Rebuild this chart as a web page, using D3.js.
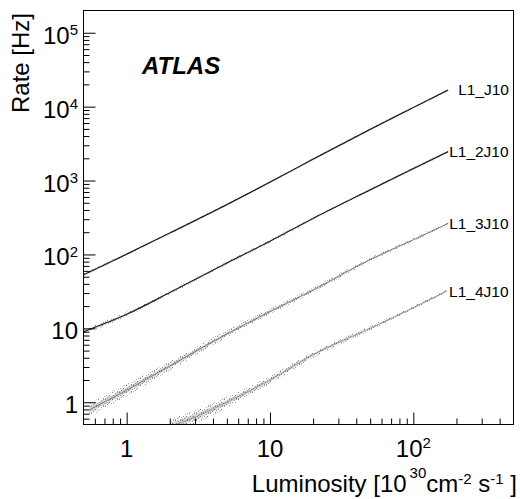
<!DOCTYPE html>
<html>
<head>
<meta charset="utf-8">
<script src="https://cdn.jsdelivr.net/npm/d3@7"></script>
<style>
  html, body { margin: 0; padding: 0; background: #fff; }
  svg text { font-family: "Liberation Sans", Arial, sans-serif; fill: #000; }
</style>
</head>
<body>
<svg id="chart" width="520" height="499"></svg>
<script>
// ---------------- data ----------------
const seriesNames = ["L1_J10", "L1_2J10", "L1_3J10", "L1_4J10"];

// luminosity [1e30 cm^-2 s^-1] of each read point, per series
const lumiJ10  = [0.5, 1, 2, 5, 10, 20, 50, 100, 175];
const lumi2J10 = [0.5, 1, 2, 5, 10, 20, 50, 100, 175];
const lumi3J10 = [0.55, 1, 2, 5, 10, 20, 50, 100, 175];
const lumi4J10 = [2, 3, 5, 10, 20, 50, 100, 172];

// rate [Hz] (centre of the scatter band)
const rateJ10  = [53, 101, 195, 473, 950, 1950, 4930, 9730, 16800];
const rate2J10 = [9.0, 15.5, 30.5, 76.7, 151, 307, 747, 1450, 2460];
const rate3J10 = [0.79, 1.46, 3.1, 8.4, 16.9, 33, 85, 158, 264];
const rate4J10 = [0.47, 0.63, 1.0, 2.0, 4.4, 10, 19, 32];

// half-width of the scatter band (in decades of rate)
const spreadJ10  = [0.02, 0.015, 0.015, 0.015, 0.012, 0.012, 0.012, 0.012, 0.012];
const spread2J10 = [0.03, 0.03, 0.025, 0.02, 0.02, 0.018, 0.015, 0.015, 0.015];
const spread3J10 = [0.09, 0.08, 0.06, 0.045, 0.035, 0.03, 0.025, 0.02, 0.02];
const spread4J10 = [0.1, 0.09, 0.07, 0.05, 0.04, 0.03, 0.025, 0.02];

// axes
const xDomain = [0.5, 500];
const yDomain = [0.5, 2e5];
const xTickValues = [1, 10, 100];
const xTickBase = ["1", "10", "10"];
const xTickExp  = ["", "", "2"];
const yTickValues = [1, 10, 100, 1e3, 1e4, 1e5];
const yTickBase = ["1", "10", "10", "10", "10", "10"];
const yTickExp  = ["", "", "2", "3", "4", "5"];

// ---------------- styles / layout ----------------
(function () {
const lumis = [lumiJ10, lumi2J10, lumi3J10, lumi4J10];
const rates = [rateJ10, rate2J10, rate3J10, rate4J10];
const spreads = [spreadJ10, spread2J10, spread3J10, spread4J10];
const lineColor = ["#1a1a1a", "#1a1a1a", "#555", "#666"];
const lineWidth = [1.3, 1.2, 0.9, 0.8];
const lineOpacity = [0.95, 0.95, 0.7, 0.6];
const labelDx = [10, 1, 1, 2];

const pLeft = 83.5, pRight = 513.5, pTop = 10.5, pBottom = 424.5;

const svg = d3.select("#chart");
const x = d3.scaleLog().domain(xDomain).range([pLeft, pRight]);
const y = d3.scaleLog().domain(yDomain).range([pBottom, pTop]);

const defs = svg.append("defs");
defs.append("clipPath").attr("id", "plotclip")
  .append("rect").attr("x", pLeft).attr("y", pTop)
  .attr("width", pRight - pLeft).attr("height", pBottom - pTop);

// irregular stipple texture (style only) to look like a dense scatter
const pat = defs.append("pattern").attr("id", "stip")
  .attr("patternUnits", "userSpaceOnUse").attr("width", 7).attr("height", 7);
const stippleDots = [[0,0,"#888"],[3,1,"#aaa"],[5,0,"#999"],[1,3,"#9a9a9a"],[4,3,"#777"],
                     [6,4,"#aaa"],[2,5,"#888"],[5,6,"#999"],[0,6,"#b0b0b0"],[3,4,"#bbb"]];
stippleDots.forEach(p => {
  pat.append("rect").attr("x", p[0]).attr("y", p[1]).attr("width", 1).attr("height", 1).attr("fill", p[2]);
});

const plot = svg.append("g").attr("clip-path", "url(#plotclip)");

seriesNames.forEach((name, i) => {
  const pts = lumis[i].map((L, j) => ({ L: L, R: rates[i][j], w: spreads[i][j] }));
  const area = d3.area()
    .x(d => x(d.L))
    .y0(d => y(d.R * Math.pow(10, -d.w)))
    .y1(d => y(d.R * Math.pow(10, d.w)))
    .curve(d3.curveMonotoneX);
  plot.append("path").datum(pts).attr("d", area)
    .attr("fill", "url(#stip)").attr("stroke", "none");
  // denser inner core
  const core = d3.area()
    .x(d => x(d.L))
    .y0(d => y(d.R * Math.pow(10, -d.w * 0.45)))
    .y1(d => y(d.R * Math.pow(10, d.w * 0.45)))
    .curve(d3.curveMonotoneX);
  plot.append("path").datum(pts).attr("d", core)
    .attr("fill", "#8a8a8a").attr("fill-opacity", 0.35).attr("stroke", "none");
  const line = d3.line().x(d => x(d.L)).y(d => y(d.R)).curve(d3.curveMonotoneX);
  plot.append("path").datum(pts).attr("d", line)
    .attr("fill", "none").attr("stroke", lineColor[i])
    .attr("stroke-width", lineWidth[i]).attr("stroke-opacity", lineOpacity[i]);

  const last = pts[pts.length - 1];
  svg.append("text")
    .attr("x", x(last.L) + labelDx[i]).attr("y", y(last.R) + 5.5)
    .attr("font-size", 15.5).text(name);
});

// ---------------- axes ----------------
function minorTicks(domain) {
  const out = [];
  for (let e = -1; e <= 5; e++) {
    for (let k = 2; k <= 9; k++) {
      const v = k * Math.pow(10, e);
      if (v > domain[0] * 1.0001 && v < domain[1] * 0.9999) out.push(v);
    }
  }
  return out;
}

const gx = svg.append("g").attr("transform", `translate(0,${pBottom})`);
gx.call(d3.axisBottom(x).tickValues(xTickValues).tickSize(-12).tickFormat(""));
gx.append("g").call(d3.axisBottom(x).tickValues(minorTicks(xDomain)).tickSize(-6).tickFormat(""));
gx.selectAll(".domain").remove();
gx.selectAll("line").attr("stroke", "#000").attr("stroke-width", 1);

const gy = svg.append("g").attr("transform", `translate(${pLeft},0)`);
gy.call(d3.axisLeft(y).tickValues(yTickValues).tickSize(-12).tickFormat(""));
gy.append("g").call(d3.axisLeft(y).tickValues(minorTicks(yDomain)).tickSize(-6).tickFormat(""));
gy.selectAll(".domain").remove();
gy.selectAll("line").attr("stroke", "#000").attr("stroke-width", 1);

// frame
svg.append("rect").attr("x", pLeft).attr("y", pTop)
  .attr("width", pRight - pLeft).attr("height", pBottom - pTop)
  .attr("fill", "none").attr("stroke", "#000").attr("stroke-width", 1);

// tick labels
xTickValues.forEach((v, i) => {
  const t = svg.append("text").attr("x", x(v)).attr("y", pBottom + 32.5)
    .attr("text-anchor", "middle").attr("font-size", 24);
  t.append("tspan").text(xTickBase[i]);
  if (xTickExp[i]) t.append("tspan").attr("font-size", 15).attr("dy", -9).text(xTickExp[i]);
});
yTickValues.forEach((v, i) => {
  const t = svg.append("text").attr("x", 78).attr("y", y(v) + 11)
    .attr("text-anchor", "end").attr("font-size", 24);
  t.append("tspan").text(yTickBase[i]);
  if (yTickExp[i]) t.append("tspan").attr("font-size", 15).attr("dy", -8.5).text(yTickExp[i]);
});

// axis titles
const xt = svg.append("text").attr("x", 517).attr("y", 492)
  .attr("text-anchor", "end").attr("font-size", 24);
xt.append("tspan").text("Luminosity [10");
xt.append("tspan").attr("font-size", 15).attr("dy", -14).attr("dx", 3).text("30");
xt.append("tspan").attr("dy", 14).text("cm");
xt.append("tspan").attr("font-size", 15).attr("dy", -8).text("-2");
xt.append("tspan").attr("dy", 8).text(" s");
xt.append("tspan").attr("font-size", 15).attr("dy", -8).text("-1");
xt.append("tspan").attr("dy", 8).text(" ]");

svg.append("text").attr("transform", "translate(28.5,13) rotate(-90)")
  .attr("text-anchor", "end").attr("font-size", 24).text("Rate [Hz]");

svg.append("text").attr("x", 142).attr("y", 74)
  .attr("font-size", 24).attr("font-weight", "bold").attr("font-style", "italic")
  .text("ATLAS");
})();
</script>
</body>
</html>
